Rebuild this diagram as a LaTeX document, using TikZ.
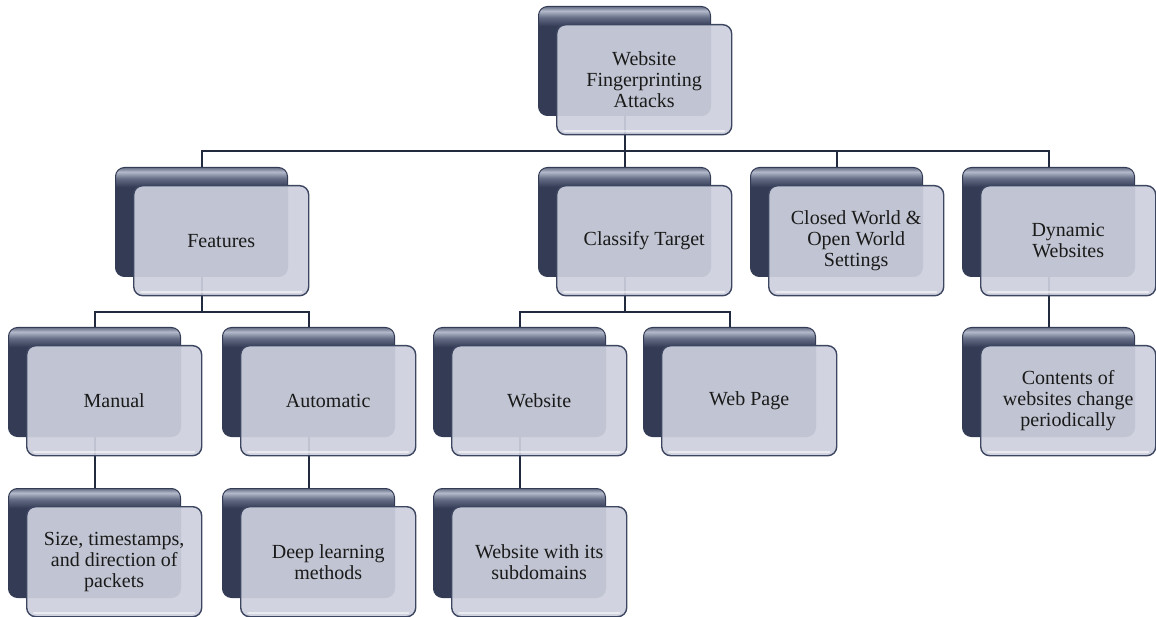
\documentclass[tikz,border=0pt]{standalone}
\usepackage{fontspec}
\setmainfont{Liberation Serif}[Ligatures=TeX]
\definecolor{bkD}{HTML}{343C55}
\definecolor{bkM}{HTML}{646D85}
\definecolor{bkL}{HTML}{B4BACB}
\definecolor{frM}{HTML}{CDD0DD}
\definecolor{frB}{HTML}{3D4661}
\definecolor{lineC}{HTML}{222A40}
\definecolor{txtC}{HTML}{1A1A1A}
\pgfdeclareverticalshading{backsh}{100bp}{color(0bp)=(bkD); color(25bp)=(bkD); color(66bp)=(bkD); color(70bp)=(bkM); color(73bp)=(bkL); color(75bp)=(bkM); color(100bp)=(bkM)}
\pgfdeclarelayer{bg}
\pgfsetlayers{bg,main}
\tikzset{
  backbox/.style={shading=backsh, draw=bkD, line width=1pt, rounded corners=9pt,
    minimum width=172pt, minimum height=109pt, inner sep=0pt, anchor=north west},
  frontbox/.style={fill=frM, fill opacity=0.92, text opacity=1, draw=frB, draw opacity=1, line width=1.4pt,
    rounded corners=9pt, minimum width=175pt, minimum height=110pt, inner sep=2pt,
    anchor=north west, align=center, text=txtC,
    font=\fontsize{20}{21}\selectfont},
  gloss/.style={draw=white, draw opacity=0.55, line width=2pt, line cap=round},
  conn/.style={draw=lineC, line width=2pt}
}
\newcommand\unitbox[4]{%
  \node[backbox] (#1B) at (#2,#3) {};
  \node[frontbox] (#1F) at ({#2+18},{#3+18}) {#4};
  \draw[gloss] ([xshift=8pt,yshift=4pt]#1F.south west) -- ([xshift=-8pt,yshift=4pt]#1F.south east);
}
\begin{document}
\begin{tikzpicture}[x=1pt,y=-1pt]
\useasboundingbox (0,0) rectangle (1156,617);
\unitbox{top}{538}{6}{Website\\Fingerprinting\\Attacks}
\unitbox{feat}{115}{167}{Features}
\unitbox{cls}{538}{167}{Classify Target}
\unitbox{cw}{750}{167}{Closed World \&\\Open World\\Settings}
\unitbox{dyn}{962}{167}{Dynamic\\Websites}
\unitbox{man}{8}{327}{Manual}
\unitbox{auto}{222}{327}{Automatic}
\unitbox{web}{433}{327}{Website}
\unitbox{wp}{643}{327}{Web Page}
\unitbox{cont}{962}{327}{Contents of\\websites change\\periodically}
\unitbox{size}{8}{488}{Size, timestamps,\\and direction of\\packets}
\unitbox{deep}{222}{488}{Deep learning\\methods}
\unitbox{sub}{433}{488}{Website with its\\subdomains}
\coordinate (busA) at (0,151);
\coordinate (busB) at (0,312);
\begin{pgfonlayer}{bg}
\draw[conn] (topB.south) -- (topB.south |- busA) -| (featB.north);
\draw[conn] (topB.south) -- (clsB.north);
\draw[conn] (topB.south) -- (topB.south |- busA) -| (cwB.north);
\draw[conn] (topB.south) -- (topB.south |- busA) -| (dynB.north);
\draw[conn] (featB.south) -- (featB.south |- busB) -| (manB.north);
\draw[conn] (featB.south) -- (featB.south |- busB) -| (autoB.north);
\draw[conn] (clsB.south) -- (clsB.south |- busB) -| (webB.north);
\draw[conn] (clsB.south) -- (clsB.south |- busB) -| (wpB.north);
\draw[conn] (dynB.south) -- (contB.north);
\draw[conn] (manB.south) -- (sizeB.north);
\draw[conn] (autoB.south) -- (deepB.north);
\draw[conn] (webB.south) -- (subB.north);
\end{pgfonlayer}
\end{tikzpicture}
\end{document}
